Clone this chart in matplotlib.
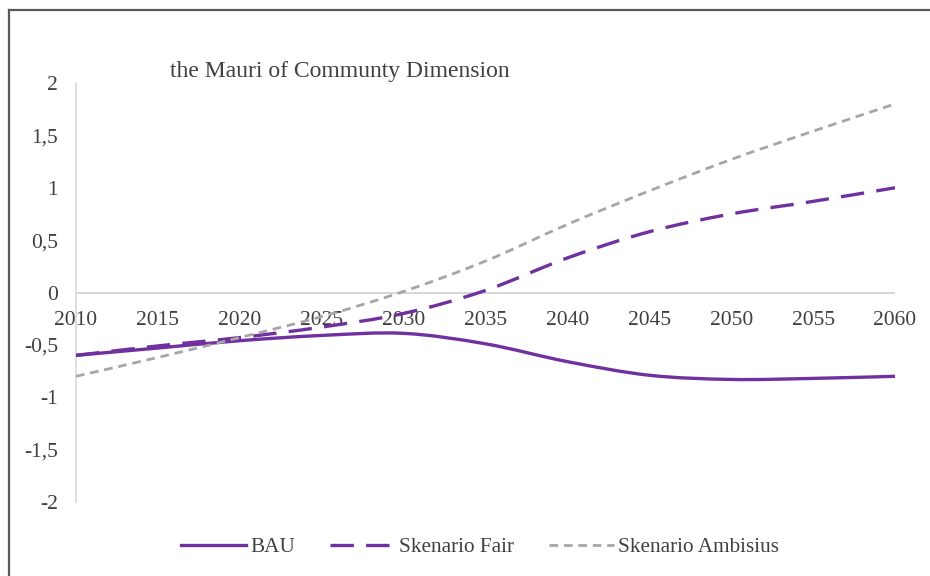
import numpy as np
import matplotlib
matplotlib.use("Agg")
import matplotlib.pyplot as plt
from matplotlib.path import Path
from matplotlib.patches import PathPatch
from matplotlib.lines import Line2D

plt.rcParams["font.family"] = ["Liberation Serif", "DejaVu Serif"]

# data
years = [2010, 2015, 2020, 2025, 2030, 2035, 2040, 2045, 2050, 2055, 2060]
bau = [-0.60, -0.53, -0.46, -0.41, -0.39, -0.49, -0.66, -0.79, -0.83, -0.82, -0.80]
fair = [-0.60, -0.51, -0.43, -0.33, -0.20, 0.02, 0.33, 0.58, 0.75, 0.87, 1.00]
ambisius = [-0.80, -0.62, -0.43, -0.23, 0.01, 0.30, 0.65, 0.97, 1.27, 1.54, 1.80]
y_ticks = [-2, -1.5, -1, -0.5, 0, 0.5, 1, 1.5, 2]
title = "the Mauri of Communty Dimension"

purple = "#7030A0"
grey = "#A6A6A6"
text_col = "#404040"


def smooth_path(xs, ys):
    # Excel-style smoothed line as cubic bezier segments
    p = np.column_stack([xs, ys]).astype(float)
    ext = np.vstack([p[0], p, p[-1]])
    verts = [p[0]]
    codes = [Path.MOVETO]
    for i in range(len(p) - 1):
        c1 = ext[i + 1] + (ext[i + 2] - ext[i]) / 6.0
        c2 = ext[i + 2] - (ext[i + 3] - ext[i + 1]) / 6.0
        verts += [c1, c2, p[i + 1]]
        codes += [Path.CURVE4] * 3
    return Path(verts, codes)


fig = plt.figure(figsize=(9.3, 5.76), dpi=100)
ax = fig.add_axes([76 / 930, 1 - 502 / 576, 819 / 930, 419 / 576])

series = [
    ("BAU", bau, purple, 2.4, "-"),
    ("Skenario Fair", fair, purple, 2.4, (0, (7, 3.7))),
    ("Skenario Ambisius", ambisius, grey, 2.0, (0, (3.1, 2.1))),
]
handles = []
for name, vals, col, lw, ls in series:
    patch = PathPatch(smooth_path(years, vals), fill=False, edgecolor=col,
                      linewidth=lw, linestyle=ls, capstyle="butt", zorder=3)
    ax.add_patch(patch)
    handles.append(Line2D([], [], color=col, linewidth=lw, linestyle=ls, label=name))

ax.set_xlim(2010, 2060)
ax.set_ylim(-2, 2)
ax.axhline(0, color="#D0D0D0", linewidth=1.2, zorder=1)
for s in ["top", "right", "bottom"]:
    ax.spines[s].set_visible(False)
ax.spines["left"].set_color("#D9D9D9")
ax.spines["left"].set_linewidth(1.2)

ax.set_yticks(y_ticks)
ax.set_yticklabels([("%g" % v).replace(".", ",") for v in y_ticks])
ax.tick_params(axis="y", length=0, pad=13, labelsize=15.5, labelcolor=text_col)
ax.set_xticks([])

# x labels sit just under the zero line
for yr in years:
    ax.annotate(str(yr), (yr, 0), xytext=(0, -20.5), textcoords="offset points",
                ha="center", va="center", fontsize=15.5, color=text_col, zorder=2)

fig.text(170 / 930, 1 - 71 / 576, title, ha="left", va="center",
         fontsize=17, color=text_col)

fig.legend(handles=handles, loc="center", bbox_to_anchor=(480 / 930, 1 - 547 / 576),
           ncol=3, frameon=False, fontsize=15.3, handlelength=3.05,
           columnspacing=1.65, handletextpad=0.2, labelcolor=text_col)

# frame of the original screenshot
fig.add_artist(Line2D([8.5 / 930, 1], [1 - 9.5 / 576, 1 - 9.5 / 576],
                      transform=fig.transFigure, color="#595959", linewidth=1.6))
fig.add_artist(Line2D([8.5 / 930, 8.5 / 930], [0, 1 - 9.5 / 576],
                      transform=fig.transFigure, color="#595959", linewidth=1.6))

fig.savefig("out.png", dpi=100)
